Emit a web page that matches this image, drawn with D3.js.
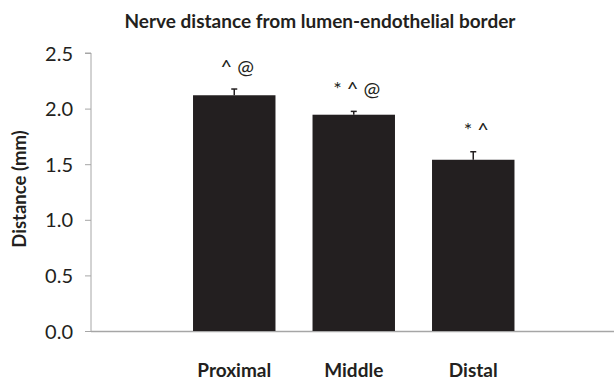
<!DOCTYPE html>
<html>
<head>
<meta charset="utf-8">
<script src="https://cdn.jsdelivr.net/npm/d3@7"></script>
<style>
  html, body { margin: 0; padding: 0; background: #fff; }
  text { font-family: Lato, "Open Sans", sans-serif; fill: #231f20; }
</style>
</head>
<body>
<svg id="chart" width="614" height="380"></svg>
<script>
// Nerve distance by vessel segment (mean ± error)
const categories = ["Proximal", "Middle", "Distal"];
const distances = [2.12, 1.945, 1.54];
const errors = [0.056, 0.03, 0.072];
const markers = ["^ @", "* ^ @", "* ^"];
const yTicks = [0, 0.5, 1.0, 1.5, 2.0, 2.5];

const svg = d3.select("#chart");

const y = d3.scaleLinear().domain([0, 2.5]).range([331, 53]);
const x = d3.scaleBand().domain(categories).range([174.5, 533]).paddingInner(0.31).paddingOuter(0.155);

// Title
svg.append("text")
  .attr("x", 320).attr("y", 28)
  .attr("text-anchor", "middle")
  .attr("font-weight", "bold")
  .attr("font-size", 19)
  .text("Nerve distance from lumen-endothelial border");

// Y axis
const yAxis = d3.axisLeft(y).tickValues(yTicks).tickSize(6).tickFormat(d3.format(".1f"));
const gy = svg.append("g").attr("transform", "translate(91,0)").call(yAxis);
gy.select(".domain").attr("stroke", "#a6a6a6").attr("d", "M-6,53H0V331");
gy.selectAll(".tick line").attr("stroke", "#a6a6a6");
gy.selectAll(".tick text")
  .attr("x", -18).attr("dy", "0.35em")
  .attr("font-size", 20).attr("fill", "#231f20")
  .style("font-family", "Lato, 'Open Sans', sans-serif");

// X axis baseline
svg.append("line")
  .attr("x1", 91).attr("x2", 614)
  .attr("y1", y(0) + 0.5).attr("y2", y(0) + 0.5)
  .attr("stroke", "#a6a6a6").attr("stroke-width", 1.5);

// Y axis title
svg.append("text")
  .attr("transform", "translate(26,189) rotate(-90)")
  .attr("text-anchor", "middle")
  .attr("font-weight", "bold")
  .attr("font-size", 18.5)
  .text("Distance (mm)");

// Bars
svg.selectAll("rect.bar").data(categories).join("rect")
  .attr("class", "bar")
  .attr("x", d => x(d))
  .attr("width", x.bandwidth())
  .attr("y", (d, i) => y(distances[i]))
  .attr("height", (d, i) => y(0) - y(distances[i]))
  .attr("fill", "#231f20");

// Error bars (upper half)
const eb = svg.selectAll("g.err").data(categories).join("g").attr("class", "err");
eb.append("line")
  .attr("x1", d => x(d) + x.bandwidth() / 2)
  .attr("x2", d => x(d) + x.bandwidth() / 2)
  .attr("y1", (d, i) => y(distances[i]))
  .attr("y2", (d, i) => y(distances[i] + errors[i]))
  .attr("stroke", "#231f20").attr("stroke-width", 1.5);
eb.append("line")
  .attr("x1", d => x(d) + x.bandwidth() / 2 - 3)
  .attr("x2", d => x(d) + x.bandwidth() / 2 + 3)
  .attr("y1", (d, i) => y(distances[i] + errors[i]))
  .attr("y2", (d, i) => y(distances[i] + errors[i]))
  .attr("stroke", "#231f20").attr("stroke-width", 1.5);

// Significance markers
svg.selectAll("text.mark").data(categories).join("text")
  .attr("class", "mark")
  .attr("x", d => x(d) + x.bandwidth() / 2 + 3)
  .attr("y", (d, i) => y(distances[i] + errors[i]) - 15)
  .attr("text-anchor", "middle")
  .attr("font-size", 20)
  .text((d, i) => markers[i]);

// Category labels
svg.selectAll("text.cat").data(categories).join("text")
  .attr("class", "cat")
  .attr("x", d => x(d) + x.bandwidth() / 2)
  .attr("y", 377)
  .attr("text-anchor", "middle")
  .attr("font-weight", "bold")
  .attr("font-size", 19)
  .text(d => d);
</script>
</body>
</html>
